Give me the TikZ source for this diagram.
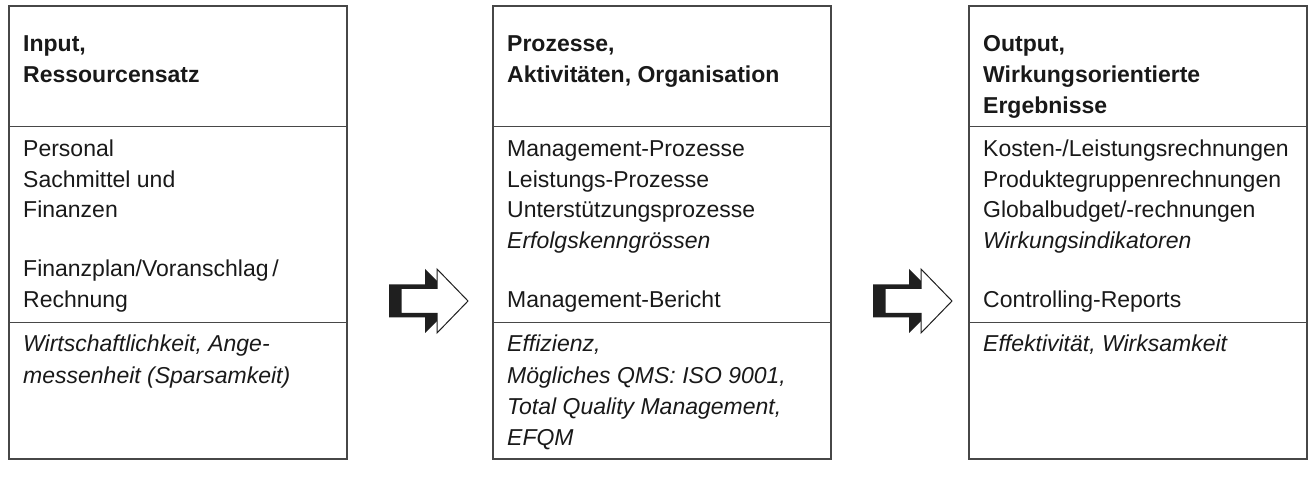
\documentclass[tikz,border=0pt]{standalone}
\usepackage{fontspec}
\setmainfont{Liberation Sans}
\begin{document}
\begin{tikzpicture}[x=1pt,y=-1pt,
  frame/.style={draw=black!72,line width=1.6pt,rectangle,inner sep=0pt,minimum width=338pt,minimum height=453pt,anchor=north west},
  divider/.style={draw=black!72,line width=1.6pt},
  txt/.style={anchor=base west,inner sep=0pt,text=black!90,font=\fontsize{23}{27}\selectfont},
  ttl/.style={txt,font=\fontsize{23}{27}\selectfont\bfseries},
  itx/.style={txt,font=\fontsize{23}{27}\selectfont\itshape},
  shade/.style={fill=black!88,draw=none},
  blockarrow/.style={fill=white,draw=black!88,line width=1pt,line join=miter}]
\useasboundingbox (0,0) rectangle (1312,486);
% boxes
\node[frame] (b1) at (8,5) {};
\node[frame] (b2) at (492,5) {};
\node[frame] (b3) at (968,5) {};
\foreach \b in {b1,b2,b3}{
  \draw[divider] (\b.west |- 0,126.5) -- (\b.east |- 0,126.5);
  \draw[divider] (\b.west |- 0,322.5) -- (\b.east |- 0,322.5);
}
% box 1
\node[ttl] (t1a) at (23,52) {Input,};
\node[ttl] (t1b) at (23,83) {Ressourcensatz};
\node[txt] (m1a) at (23,157) {Personal};
\node[txt] (m1b) at (23,188) {Sachmittel und};
\node[txt] (m1c) at (23,218) {Finanzen};
\node[txt] (m1d) at (23,277) {Finanzplan/Voranschlag\,/};
\node[txt] (m1e) at (23,308) {Rechnung};
\node[itx] (e1a) at (23,352) {Wirtschaftlichkeit, Ange-};
\node[itx] (e1b) at (23,383) {messenheit (Sparsamkeit)};
% box 2
\node[ttl] (t2a) at (507,52) {Prozesse,};
\node[ttl] (t2b) at (507,83) {Aktivitäten, Organisation};
\node[txt] (m2a) at (507,157) {Management-Prozesse};
\node[txt] (m2b) at (507,188) {Leistungs-Prozesse};
\node[txt] (m2c) at (507,218) {Unterstützungsprozesse};
\node[itx] (m2d) at (507,249) {Erfolgskenngrössen};
\node[txt] (m2e) at (507,308) {Management-Bericht};
\node[itx] (e2a) at (507,352) {Effizienz,};
\node[itx] (e2b) at (507,383) {Mögliches QMS: ISO 9001,};
\node[itx] (e2c) at (507,414) {Total Quality Management,};
\node[itx] (e2d) at (507,445) {EFQM};
% box 3
\node[ttl] (t3a) at (983,52) {Output,};
\node[ttl] (t3b) at (983,83) {Wirkungsorientierte};
\node[ttl] (t3c) at (983,114) {Ergebnisse};
\node[txt] (m3a) at (983,157) {Kosten-/Leistungsrechnungen};
\node[txt] (m3b) at (983,188) {Produktegruppenrechnungen};
\node[txt] (m3c) at (983,218) {Globalbudget/-rechnungen};
\node[itx] (m3d) at (983,249) {Wirkungsindikatoren};
\node[txt] (m3e) at (983,308) {Controlling-Reports};
\node[itx] (e3a) at (983,352) {Effektivität, Wirksamkeit};
% block arrows
\foreach \dx/\nm in {0/a1,484/a2}{
  \begin{scope}[xshift=\dx pt]
  \fill[shade] (389,284.5) -- (425,284.5) -- (425,269) -- (457,301) -- (425,333) -- (425,317.5) -- (389,317.5) -- cycle;
  \draw[blockarrow] (401,288.5) -- (437,288.5) -- (437,269) -- (468,301) -- (437,333) -- (437,313.5) -- (401,313.5) -- cycle;
  \coordinate (\nm) at (428,301);
  \end{scope}
}
\end{tikzpicture}
\end{document}
